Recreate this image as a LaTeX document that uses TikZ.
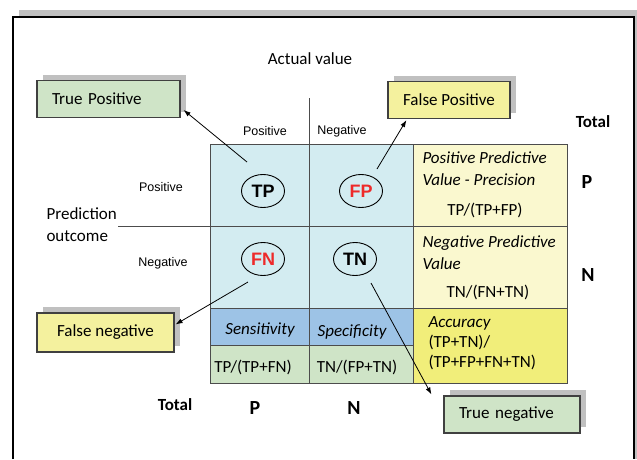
\documentclass[tikz,border=0pt]{standalone}
\usepackage{fontspec}
\setmainfont{Carlito}
\newfontfamily\arialfont{Liberation Sans}
\usetikzlibrary{positioning, calc, arrows.meta, shapes.geometric, shadows}
\definecolor{cellcyan}{HTML}{D3ECF1}
\definecolor{paleyellow}{HTML}{FAF8CF}
\definecolor{accyellow}{HTML}{F1EE7A}
\definecolor{ratioblue}{HTML}{9DC3E6}
\definecolor{ratiogreen}{HTML}{CFE4C7}
\definecolor{boxyellow}{HTML}{F4F19E}
\definecolor{shadowgray}{HTML}{C0C0C0}
\definecolor{alertred}{HTML}{EE2A2A}

\begin{document}
\begin{tikzpicture}[x=1pt, y=-1pt,
		grid/.style={draw=black!70, line width=0.9pt},
		lblbox/.style={draw=black!75, line width=1.2pt, minimum height=37pt, inner xsep=0pt,
			drop shadow={shadow xshift=6pt, shadow yshift=6pt, fill=shadowgray, opacity=1},
			font=\fontsize{17}{20}\selectfont},
		oval/.style={ellipse, draw, line width=0.9pt, minimum width=43pt, minimum height=33pt,
			inner sep=0pt, font=\arialfont\bfseries\fontsize{18}{20}\selectfont},
		small/.style={font=\arialfont\fontsize{12.5}{14}\selectfont},
		txt/.style={font=\fontsize{17}{22}\selectfont},
		ital/.style={font=\itshape\fontsize{17}{22}\selectfont},
		bold/.style={font=\bfseries\fontsize{17}{20}\selectfont},
		big/.style={font=\bfseries\fontsize{20}{22}\selectfont},
		arrow/.style={-{Latex[length=7pt, width=5pt]}, line width=0.8pt}]
	\useasboundingbox (0,0) rectangle (637,459);

	% frame
	\fill[shadowgray] (19,10) rectangle (637,17);
	\fill[shadowgray] (634,17) rectangle (637,459);
	\draw[line width=1.3pt] (13,459) -- (13,17) -- (634,17) -- (634,459);

	% table
	\fill[cellcyan] (210,144) rectangle (413,308);
	\fill[paleyellow] (413,144) rectangle (567,308);
	\fill[accyellow] (413,308) rectangle (567,383);
	\fill[ratioblue] (210,308) rectangle (413,345);
	\fill[ratiogreen] (210,345) rectangle (413,383);
	\draw[grid] (210,144) rectangle (567,383);
	\draw[grid] (118,226) -- (567,226);
	\draw[grid] (210,308) -- (567,308);
	\draw[grid] (210,345) -- (413,345);
	\draw[grid] (309,98) -- (309,383);
	\draw[grid] (413,144) -- (413,383);

	\node[txt] (actual) at (310,59) {Actual value};
	\node[small] (colpos) at (265,131) {Positive};
	\node[small] (colneg) at (342,131) {Negative};
	\node[small] (rowpos) at (161,187) {Positive};
	\node[small] (rowneg) at (163,263) {Negative};
	\node[txt, anchor=west, align=left] (predict) at (43,225) {Prediction\\outcome};

	\node[oval] (tp) at (263,191) {TP};
	\node[oval, text=alertred] (fp) at (361,191) {FP};
	\node[oval, text=alertred] (fn) at (263,259) {FN};
	\node[oval] (tn) at (355,259) {TN};

	\node[ital, anchor=west, align=left] (ppv) at (419,169) {Positive Predictive\\Value - Precision};
	\node[txt] (ppvf) at (485,210) {TP/(TP+FP)};
	\node[ital, anchor=west, align=left] (npv) at (419,253) {Negative Predictive\\Value};
	\node[txt] (npvf) at (488,292) {TN/(FN+TN)};
	\node[txt, anchor=west, align=left, font=\fontsize{17}{20}\selectfont] (acc) at (425,343)
		{\textit{Accuracy}\\(TP+TN)/\\(TP+FP+FN+TN)};
	\node[ital] (sens) at (260,330) {Sensitivity};
	\node[ital] (spec) at (352,332) {Specificity};
	\node[txt] (sensf) at (253,367) {TP/(TP+FN)};
	\node[txt] (specf) at (357,367) {TN/(FP+TN)};

	\node[bold] (totright) at (593,122) {Total};
	\node[big] (pright) at (587,182) {P};
	\node[big] (nright) at (588,275) {N};
	\node[bold] (totbottom) at (175,405) {Total};
	\node[big] (pbottom) at (255,408) {P};
	\node[big] (nbottom) at (354,408) {N};

	% outcome boxes
	\node[lblbox, fill=ratiogreen, minimum width=143pt, text width=113pt, align=left, inner xsep=15pt]
		(tpbox) at (108.5,99) {True Positive};
	\node[lblbox, fill=boxyellow, minimum width=122pt] (fpbox) at (449,100) {False Positive};
	\node[lblbox, fill=boxyellow, minimum width=137pt, minimum height=39pt] (fnbox) at (105.5,332.5) {False negative};
	\node[lblbox, fill=ratiogreen, minimum width=136pt, text width=106pt, align=left, inner xsep=15pt]
		(tnbox) at (512,414.5) {True negative};

	\coordinate (tpfoot) at (247,162);
	\coordinate (fpfoot) at (377,169);
	\coordinate (fnfoot) at (248,282);
	\coordinate (tnfoot) at (371,283);
	\draw[arrow] (tpfoot) -- ([shift={(3,11)}]tpbox.east);
	\draw[arrow] (fpfoot) -- ([shift={(19,1)}]fpbox.south west);
	\draw[arrow] (fnfoot) -- ([shift={(1,12)}]fnbox.north east);
	\draw[arrow] (tnfoot) -- ([shift={(-12,-1)}]tnbox.north west);
\end{tikzpicture}
\end{document}
